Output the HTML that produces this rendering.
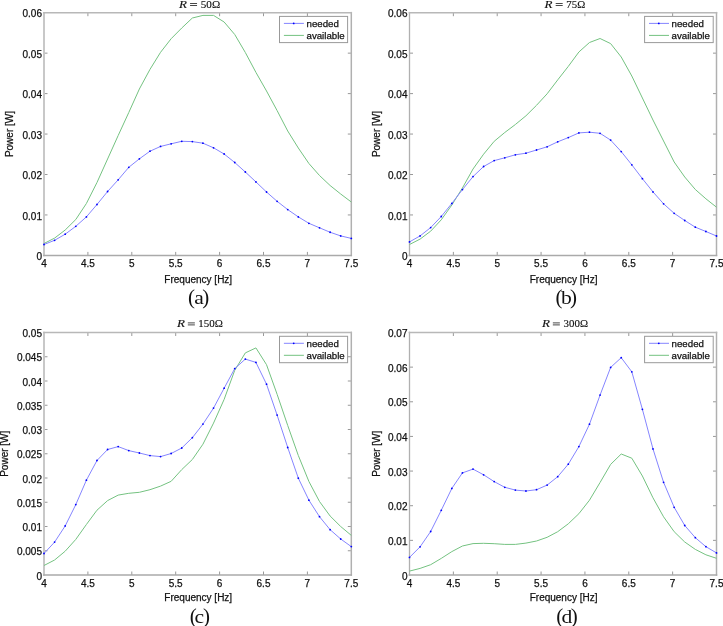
<!DOCTYPE html>
<html><head><meta charset="utf-8"><style>
html,body{margin:0;padding:0;background:#fff;}
svg{display:block;filter:grayscale(0%);}
.tk{stroke:#999;stroke-width:1;}
.tl{font-family:"Liberation Sans", sans-serif;font-size:10px;fill:#111;stroke:#111;stroke-width:0.25px;}
.al{font-family:"Liberation Sans", sans-serif;font-size:10px;fill:#111;stroke:#111;stroke-width:0.25px;}
.lt{font-family:"Liberation Sans", sans-serif;font-size:9.7px;fill:#111;stroke:#111;stroke-width:0.25px;}
.ti{font-family:"Liberation Serif", serif;font-size:11px;fill:#111;stroke:#111;stroke-width:0.15px;}
.cp{font-family:"Liberation Serif", serif;font-size:18px;fill:#111;}
.cpp{font-family:"Liberation Serif", serif;font-size:21px;fill:#111;}
.ax{fill:none;}
.lg{fill:#fff;stroke:#999;stroke-width:1;}
.ga{fill:none;stroke:#74c280;stroke-width:1.0;stroke-linejoin:round;}
.bn{fill:none;stroke:#8585ff;stroke-width:1.0;stroke-linejoin:round;}
.mk{fill:#0000ff;}
</style></head><body>
<svg width="723" height="626" viewBox="0 0 723 626">
<text x="42.0" y="260.00" text-anchor="end" class="tl">0</text>
<line x1="44" y1="214.95" x2="47.5" y2="214.95" class="tk"/>
<line x1="351.3" y1="214.95" x2="347.8" y2="214.95" class="tk"/>
<text x="42.0" y="219.55" text-anchor="end" class="tl">0.01</text>
<line x1="44" y1="174.50" x2="47.5" y2="174.50" class="tk"/>
<line x1="351.3" y1="174.50" x2="347.8" y2="174.50" class="tk"/>
<text x="42.0" y="179.10" text-anchor="end" class="tl">0.02</text>
<line x1="44" y1="134.05" x2="47.5" y2="134.05" class="tk"/>
<line x1="351.3" y1="134.05" x2="347.8" y2="134.05" class="tk"/>
<text x="42.0" y="138.65" text-anchor="end" class="tl">0.03</text>
<line x1="44" y1="93.60" x2="47.5" y2="93.60" class="tk"/>
<line x1="351.3" y1="93.60" x2="347.8" y2="93.60" class="tk"/>
<text x="42.0" y="98.20" text-anchor="end" class="tl">0.04</text>
<line x1="44" y1="53.15" x2="47.5" y2="53.15" class="tk"/>
<line x1="351.3" y1="53.15" x2="347.8" y2="53.15" class="tk"/>
<text x="42.0" y="57.75" text-anchor="end" class="tl">0.05</text>
<text x="42.0" y="17.30" text-anchor="end" class="tl">0.06</text>
<text x="44.00" y="267.40" text-anchor="middle" class="tl">4</text>
<line x1="87.90" y1="255.4" x2="87.90" y2="251.9" class="tk"/>
<line x1="87.90" y1="12.7" x2="87.90" y2="16.2" class="tk"/>
<text x="87.90" y="267.40" text-anchor="middle" class="tl">4.5</text>
<line x1="131.80" y1="255.4" x2="131.80" y2="251.9" class="tk"/>
<line x1="131.80" y1="12.7" x2="131.80" y2="16.2" class="tk"/>
<text x="131.80" y="267.40" text-anchor="middle" class="tl">5</text>
<line x1="175.70" y1="255.4" x2="175.70" y2="251.9" class="tk"/>
<line x1="175.70" y1="12.7" x2="175.70" y2="16.2" class="tk"/>
<text x="175.70" y="267.40" text-anchor="middle" class="tl">5.5</text>
<line x1="219.60" y1="255.4" x2="219.60" y2="251.9" class="tk"/>
<line x1="219.60" y1="12.7" x2="219.60" y2="16.2" class="tk"/>
<text x="219.60" y="267.40" text-anchor="middle" class="tl">6</text>
<line x1="263.50" y1="255.4" x2="263.50" y2="251.9" class="tk"/>
<line x1="263.50" y1="12.7" x2="263.50" y2="16.2" class="tk"/>
<text x="263.50" y="267.40" text-anchor="middle" class="tl">6.5</text>
<line x1="307.40" y1="255.4" x2="307.40" y2="251.9" class="tk"/>
<line x1="307.40" y1="12.7" x2="307.40" y2="16.2" class="tk"/>
<text x="307.40" y="267.40" text-anchor="middle" class="tl">7</text>
<text x="351.30" y="267.40" text-anchor="middle" class="tl">7.5</text>
<path d="M44,11.899999999999999V256.15" class="ax" stroke-width="1.9" stroke="#c6c6c6"/>
<path d="M351.3,11.899999999999999V256.15" class="ax" stroke-width="1.5" stroke="#b0b0b0"/>
<path d="M43.1,12.7H352.05" class="ax" stroke-width="1.5" stroke="#b8b8b8"/>
<path d="M43.1,255.4H352.05" class="ax" stroke-width="1.5" stroke="#aaaaaa"/>
<polyline points="44.00,243.5 54.60,238.1 65.19,230 75.79,219.5 86.39,203.5 96.98,182.5 107.58,159 118.18,135.5 128.77,112.5 139.37,89 149.97,69.4 160.56,52.3 171.16,38.7 181.76,28 192.35,18 202.95,15.4 213.54,15.4 224.14,22 234.74,34.5 245.33,52.5 255.93,72.4 266.53,91 277.12,110.6 287.72,131 298.32,148 308.91,163.5 319.51,175.5 330.11,185.5 340.70,194 351.30,202" class="ga"/>
<polyline points="44.00,244.5 54.60,240.3 65.19,234.2 75.79,226.3 86.39,216.9 96.98,204.5 107.58,191.5 118.18,179.8 128.77,167.3 139.37,158.85 149.97,151.2 160.56,146.45 171.16,143.8 181.76,141.3 192.35,141.6 202.95,143.2 213.54,147.8 224.14,154.0 234.74,162.5 245.33,172.0 255.93,181.9 266.53,192.0 277.12,201.3 287.72,209.6 298.32,216.9 308.91,223.3 319.51,227.8 330.11,232.25 340.70,235.9 351.30,238.4" class="bn"/>
<circle cx="44.00" cy="244.5" r="0.9" class="mk"/>
<circle cx="54.60" cy="240.3" r="0.9" class="mk"/>
<circle cx="65.19" cy="234.2" r="0.9" class="mk"/>
<circle cx="75.79" cy="226.3" r="0.9" class="mk"/>
<circle cx="86.39" cy="216.9" r="0.9" class="mk"/>
<circle cx="96.98" cy="204.5" r="0.9" class="mk"/>
<circle cx="107.58" cy="191.5" r="0.9" class="mk"/>
<circle cx="118.18" cy="179.8" r="0.9" class="mk"/>
<circle cx="128.77" cy="167.3" r="0.9" class="mk"/>
<circle cx="139.37" cy="158.85" r="0.9" class="mk"/>
<circle cx="149.97" cy="151.2" r="0.9" class="mk"/>
<circle cx="160.56" cy="146.45" r="0.9" class="mk"/>
<circle cx="171.16" cy="143.8" r="0.9" class="mk"/>
<circle cx="181.76" cy="141.3" r="0.9" class="mk"/>
<circle cx="192.35" cy="141.6" r="0.9" class="mk"/>
<circle cx="202.95" cy="143.2" r="0.9" class="mk"/>
<circle cx="213.54" cy="147.8" r="0.9" class="mk"/>
<circle cx="224.14" cy="154.0" r="0.9" class="mk"/>
<circle cx="234.74" cy="162.5" r="0.9" class="mk"/>
<circle cx="245.33" cy="172.0" r="0.9" class="mk"/>
<circle cx="255.93" cy="181.9" r="0.9" class="mk"/>
<circle cx="266.53" cy="192.0" r="0.9" class="mk"/>
<circle cx="277.12" cy="201.3" r="0.9" class="mk"/>
<circle cx="287.72" cy="209.6" r="0.9" class="mk"/>
<circle cx="298.32" cy="216.9" r="0.9" class="mk"/>
<circle cx="308.91" cy="223.3" r="0.9" class="mk"/>
<circle cx="319.51" cy="227.8" r="0.9" class="mk"/>
<circle cx="330.11" cy="232.25" r="0.9" class="mk"/>
<circle cx="340.70" cy="235.9" r="0.9" class="mk"/>
<circle cx="351.30" cy="238.4" r="0.9" class="mk"/>
<rect x="279.5" y="16.4" width="68.10000000000002" height="26.200000000000003" class="lg"/>
<line x1="283.9" y1="23.4" x2="303.9" y2="23.4" class="bn"/>
<circle cx="293.7" cy="23.4" r="0.9" class="mk"/>
<line x1="283.9" y1="35.4" x2="303.9" y2="35.4" class="ga"/>
<text x="306.5" y="26.799999999999997" class="lt">needed</text>
<text x="306.5" y="38.8" class="lt">available</text>
<text transform="translate(13.0,134.05) rotate(-90)" text-anchor="middle" class="al">Power [W]</text>
<text x="198.25" y="283.2" text-anchor="middle" class="al">Frequency [Hz]</text>
<text x="179.0" y="7.5" class="ti" font-style="italic" textLength="8.0" lengthAdjust="spacingAndGlyphs">R</text>
<path d="M190.05,3.50h7M190.05,5.50h7" stroke="#333" stroke-width="0.9"/>
<text x="200.79999999999998" y="7.5" class="ti" textLength="19.4" lengthAdjust="spacingAndGlyphs">50Ω</text>
<text x="188.10" y="304.00" class="cpp">(</text>
<text x="198.95" y="304.30" text-anchor="middle" class="cp" transform="translate(198.95,0) scale(1.2,1) translate(-198.95,0)">a</text>
<text x="209.20" y="304.00" text-anchor="end" class="cpp">)</text>
<text x="407.5" y="260.00" text-anchor="end" class="tl">0</text>
<line x1="409.5" y1="214.95" x2="413.0" y2="214.95" class="tk"/>
<line x1="716.5" y1="214.95" x2="713.0" y2="214.95" class="tk"/>
<text x="407.5" y="219.55" text-anchor="end" class="tl">0.01</text>
<line x1="409.5" y1="174.50" x2="413.0" y2="174.50" class="tk"/>
<line x1="716.5" y1="174.50" x2="713.0" y2="174.50" class="tk"/>
<text x="407.5" y="179.10" text-anchor="end" class="tl">0.02</text>
<line x1="409.5" y1="134.05" x2="413.0" y2="134.05" class="tk"/>
<line x1="716.5" y1="134.05" x2="713.0" y2="134.05" class="tk"/>
<text x="407.5" y="138.65" text-anchor="end" class="tl">0.03</text>
<line x1="409.5" y1="93.60" x2="413.0" y2="93.60" class="tk"/>
<line x1="716.5" y1="93.60" x2="713.0" y2="93.60" class="tk"/>
<text x="407.5" y="98.20" text-anchor="end" class="tl">0.04</text>
<line x1="409.5" y1="53.15" x2="413.0" y2="53.15" class="tk"/>
<line x1="716.5" y1="53.15" x2="713.0" y2="53.15" class="tk"/>
<text x="407.5" y="57.75" text-anchor="end" class="tl">0.05</text>
<text x="407.5" y="17.30" text-anchor="end" class="tl">0.06</text>
<text x="409.50" y="267.40" text-anchor="middle" class="tl">4</text>
<line x1="453.36" y1="255.4" x2="453.36" y2="251.9" class="tk"/>
<line x1="453.36" y1="12.7" x2="453.36" y2="16.2" class="tk"/>
<text x="453.36" y="267.40" text-anchor="middle" class="tl">4.5</text>
<line x1="497.21" y1="255.4" x2="497.21" y2="251.9" class="tk"/>
<line x1="497.21" y1="12.7" x2="497.21" y2="16.2" class="tk"/>
<text x="497.21" y="267.40" text-anchor="middle" class="tl">5</text>
<line x1="541.07" y1="255.4" x2="541.07" y2="251.9" class="tk"/>
<line x1="541.07" y1="12.7" x2="541.07" y2="16.2" class="tk"/>
<text x="541.07" y="267.40" text-anchor="middle" class="tl">5.5</text>
<line x1="584.93" y1="255.4" x2="584.93" y2="251.9" class="tk"/>
<line x1="584.93" y1="12.7" x2="584.93" y2="16.2" class="tk"/>
<text x="584.93" y="267.40" text-anchor="middle" class="tl">6</text>
<line x1="628.79" y1="255.4" x2="628.79" y2="251.9" class="tk"/>
<line x1="628.79" y1="12.7" x2="628.79" y2="16.2" class="tk"/>
<text x="628.79" y="267.40" text-anchor="middle" class="tl">6.5</text>
<line x1="672.64" y1="255.4" x2="672.64" y2="251.9" class="tk"/>
<line x1="672.64" y1="12.7" x2="672.64" y2="16.2" class="tk"/>
<text x="672.64" y="267.40" text-anchor="middle" class="tl">7</text>
<text x="716.50" y="267.40" text-anchor="middle" class="tl">7.5</text>
<path d="M409.5,11.899999999999999V256.15" class="ax" stroke-width="1.3" stroke="#b0b0b0"/>
<path d="M716.5,11.899999999999999V256.15" class="ax" stroke-width="1.5" stroke="#b0b0b0"/>
<path d="M408.6,12.7H717.25" class="ax" stroke-width="1.5" stroke="#b8b8b8"/>
<path d="M408.6,255.4H717.25" class="ax" stroke-width="1.5" stroke="#aaaaaa"/>
<polyline points="409.50,244.5 420.09,239.1 430.67,231.2 441.26,219.8 451.84,205 462.43,188 473.02,169 483.60,154.2 494.19,141.3 504.78,132.5 515.36,124.5 525.95,115.8 536.53,105.3 547.12,93.8 557.71,79.9 568.29,66.4 578.88,52 589.47,42.5 600.05,38.5 610.64,43.6 621.22,57 631.81,76 642.40,98 652.98,120 663.57,141 674.16,162 684.74,177 695.33,189.5 705.91,198.8 716.50,207.2" class="ga"/>
<polyline points="409.50,241.9 420.09,235.9 430.67,227.6 441.26,216.5 451.84,203.4 462.43,189.6 473.02,176.6 483.60,166.5 494.19,160.6 504.78,157.8 515.36,154.8 525.95,153.2 536.53,150 547.12,146.8 557.71,141.8 568.29,137.6 578.88,132.9 589.47,132.2 600.05,133.3 610.64,140.1 621.22,151.6 631.81,164.8 642.40,178.7 652.98,191.9 663.57,203.8 674.16,213.3 684.74,220.5 695.33,227.2 705.91,231.5 716.50,236" class="bn"/>
<circle cx="409.50" cy="241.9" r="0.9" class="mk"/>
<circle cx="420.09" cy="235.9" r="0.9" class="mk"/>
<circle cx="430.67" cy="227.6" r="0.9" class="mk"/>
<circle cx="441.26" cy="216.5" r="0.9" class="mk"/>
<circle cx="451.84" cy="203.4" r="0.9" class="mk"/>
<circle cx="462.43" cy="189.6" r="0.9" class="mk"/>
<circle cx="473.02" cy="176.6" r="0.9" class="mk"/>
<circle cx="483.60" cy="166.5" r="0.9" class="mk"/>
<circle cx="494.19" cy="160.6" r="0.9" class="mk"/>
<circle cx="504.78" cy="157.8" r="0.9" class="mk"/>
<circle cx="515.36" cy="154.8" r="0.9" class="mk"/>
<circle cx="525.95" cy="153.2" r="0.9" class="mk"/>
<circle cx="536.53" cy="150" r="0.9" class="mk"/>
<circle cx="547.12" cy="146.8" r="0.9" class="mk"/>
<circle cx="557.71" cy="141.8" r="0.9" class="mk"/>
<circle cx="568.29" cy="137.6" r="0.9" class="mk"/>
<circle cx="578.88" cy="132.9" r="0.9" class="mk"/>
<circle cx="589.47" cy="132.2" r="0.9" class="mk"/>
<circle cx="600.05" cy="133.3" r="0.9" class="mk"/>
<circle cx="610.64" cy="140.1" r="0.9" class="mk"/>
<circle cx="621.22" cy="151.6" r="0.9" class="mk"/>
<circle cx="631.81" cy="164.8" r="0.9" class="mk"/>
<circle cx="642.40" cy="178.7" r="0.9" class="mk"/>
<circle cx="652.98" cy="191.9" r="0.9" class="mk"/>
<circle cx="663.57" cy="203.8" r="0.9" class="mk"/>
<circle cx="674.16" cy="213.3" r="0.9" class="mk"/>
<circle cx="684.74" cy="220.5" r="0.9" class="mk"/>
<circle cx="695.33" cy="227.2" r="0.9" class="mk"/>
<circle cx="705.91" cy="231.5" r="0.9" class="mk"/>
<circle cx="716.50" cy="236" r="0.9" class="mk"/>
<rect x="644.6" y="16.4" width="68.60000000000002" height="26.200000000000003" class="lg"/>
<line x1="649.0" y1="23.4" x2="669.0" y2="23.4" class="bn"/>
<circle cx="658.8000000000001" cy="23.4" r="0.9" class="mk"/>
<line x1="649.0" y1="35.4" x2="669.0" y2="35.4" class="ga"/>
<text x="671.6" y="26.799999999999997" class="lt">needed</text>
<text x="671.6" y="38.8" class="lt">available</text>
<text transform="translate(380.1,134.05) rotate(-90)" text-anchor="middle" class="al">Power [W]</text>
<text x="563.60" y="283.2" text-anchor="middle" class="al">Frequency [Hz]</text>
<text x="544.4" y="7.5" class="ti" font-style="italic" textLength="8.0" lengthAdjust="spacingAndGlyphs">R</text>
<path d="M555.70,3.50h7M555.70,5.50h7" stroke="#333" stroke-width="0.9"/>
<text x="566.3000000000001" y="7.5" class="ti" textLength="18.9" lengthAdjust="spacingAndGlyphs">75Ω</text>
<text x="555.60" y="304.00" class="cpp">(</text>
<text x="566.45" y="304.30" text-anchor="middle" class="cp" transform="translate(566.45,0) scale(1.2,1) translate(-566.45,0)">b</text>
<text x="577.00" y="304.00" text-anchor="end" class="cpp">)</text>
<text x="42.0" y="579.60" text-anchor="end" class="tl">0</text>
<line x1="44" y1="550.75" x2="47.5" y2="550.75" class="tk"/>
<line x1="351.3" y1="550.75" x2="347.8" y2="550.75" class="tk"/>
<text x="42.0" y="555.35" text-anchor="end" class="tl">0.005</text>
<line x1="44" y1="526.50" x2="47.5" y2="526.50" class="tk"/>
<line x1="351.3" y1="526.50" x2="347.8" y2="526.50" class="tk"/>
<text x="42.0" y="531.10" text-anchor="end" class="tl">0.01</text>
<line x1="44" y1="502.25" x2="47.5" y2="502.25" class="tk"/>
<line x1="351.3" y1="502.25" x2="347.8" y2="502.25" class="tk"/>
<text x="42.0" y="506.85" text-anchor="end" class="tl">0.015</text>
<line x1="44" y1="478.00" x2="47.5" y2="478.00" class="tk"/>
<line x1="351.3" y1="478.00" x2="347.8" y2="478.00" class="tk"/>
<text x="42.0" y="482.60" text-anchor="end" class="tl">0.02</text>
<line x1="44" y1="453.75" x2="47.5" y2="453.75" class="tk"/>
<line x1="351.3" y1="453.75" x2="347.8" y2="453.75" class="tk"/>
<text x="42.0" y="458.35" text-anchor="end" class="tl">0.025</text>
<line x1="44" y1="429.50" x2="47.5" y2="429.50" class="tk"/>
<line x1="351.3" y1="429.50" x2="347.8" y2="429.50" class="tk"/>
<text x="42.0" y="434.10" text-anchor="end" class="tl">0.03</text>
<line x1="44" y1="405.25" x2="47.5" y2="405.25" class="tk"/>
<line x1="351.3" y1="405.25" x2="347.8" y2="405.25" class="tk"/>
<text x="42.0" y="409.85" text-anchor="end" class="tl">0.035</text>
<line x1="44" y1="381.00" x2="47.5" y2="381.00" class="tk"/>
<line x1="351.3" y1="381.00" x2="347.8" y2="381.00" class="tk"/>
<text x="42.0" y="385.60" text-anchor="end" class="tl">0.04</text>
<line x1="44" y1="356.75" x2="47.5" y2="356.75" class="tk"/>
<line x1="351.3" y1="356.75" x2="347.8" y2="356.75" class="tk"/>
<text x="42.0" y="361.35" text-anchor="end" class="tl">0.045</text>
<text x="42.0" y="337.10" text-anchor="end" class="tl">0.05</text>
<text x="44.00" y="587.00" text-anchor="middle" class="tl">4</text>
<line x1="87.90" y1="575.0" x2="87.90" y2="571.5" class="tk"/>
<line x1="87.90" y1="332.5" x2="87.90" y2="336.0" class="tk"/>
<text x="87.90" y="587.00" text-anchor="middle" class="tl">4.5</text>
<line x1="131.80" y1="575.0" x2="131.80" y2="571.5" class="tk"/>
<line x1="131.80" y1="332.5" x2="131.80" y2="336.0" class="tk"/>
<text x="131.80" y="587.00" text-anchor="middle" class="tl">5</text>
<line x1="175.70" y1="575.0" x2="175.70" y2="571.5" class="tk"/>
<line x1="175.70" y1="332.5" x2="175.70" y2="336.0" class="tk"/>
<text x="175.70" y="587.00" text-anchor="middle" class="tl">5.5</text>
<line x1="219.60" y1="575.0" x2="219.60" y2="571.5" class="tk"/>
<line x1="219.60" y1="332.5" x2="219.60" y2="336.0" class="tk"/>
<text x="219.60" y="587.00" text-anchor="middle" class="tl">6</text>
<line x1="263.50" y1="575.0" x2="263.50" y2="571.5" class="tk"/>
<line x1="263.50" y1="332.5" x2="263.50" y2="336.0" class="tk"/>
<text x="263.50" y="587.00" text-anchor="middle" class="tl">6.5</text>
<line x1="307.40" y1="575.0" x2="307.40" y2="571.5" class="tk"/>
<line x1="307.40" y1="332.5" x2="307.40" y2="336.0" class="tk"/>
<text x="307.40" y="587.00" text-anchor="middle" class="tl">7</text>
<text x="351.30" y="587.00" text-anchor="middle" class="tl">7.5</text>
<path d="M44,331.7V575.75" class="ax" stroke-width="1.9" stroke="#c6c6c6"/>
<path d="M351.3,331.7V575.75" class="ax" stroke-width="1.5" stroke="#b0b0b0"/>
<path d="M43.1,332.5H352.05" class="ax" stroke-width="1.5" stroke="#b8b8b8"/>
<path d="M43.1,575.0H352.05" class="ax" stroke-width="1.5" stroke="#aaaaaa"/>
<polyline points="44.00,565.5 54.60,560 65.19,551.2 75.79,539.4 86.39,524.5 96.98,510.2 107.58,500.6 118.18,495.1 128.77,493.3 139.37,492.3 149.97,489.7 160.56,486.1 171.16,481.3 181.76,469.6 192.35,459.5 202.95,444.2 213.54,423.1 224.14,399.4 234.74,370.3 245.33,352.9 255.93,347.9 266.53,364.7 277.12,394.3 287.72,425.5 298.32,455.5 308.91,481.5 319.51,501.5 330.11,516 340.70,526.5 351.30,535.4" class="ga"/>
<polyline points="44.00,553.5 54.60,542.1 65.19,525.9 75.79,504.6 86.39,480.2 96.98,460.5 107.58,449.5 118.18,446.6 128.77,450.6 139.37,453 149.97,455.6 160.56,456.6 171.16,453.5 181.76,448 192.35,437.7 202.95,424.1 213.54,408.1 224.14,388.2 234.74,368.6 245.33,359.1 255.93,362.4 266.53,384.2 277.12,415.1 287.72,447.5 298.32,478.2 308.91,500.2 319.51,516.7 330.11,529.7 340.70,539 351.30,546.6" class="bn"/>
<circle cx="44.00" cy="553.5" r="0.9" class="mk"/>
<circle cx="54.60" cy="542.1" r="0.9" class="mk"/>
<circle cx="65.19" cy="525.9" r="0.9" class="mk"/>
<circle cx="75.79" cy="504.6" r="0.9" class="mk"/>
<circle cx="86.39" cy="480.2" r="0.9" class="mk"/>
<circle cx="96.98" cy="460.5" r="0.9" class="mk"/>
<circle cx="107.58" cy="449.5" r="0.9" class="mk"/>
<circle cx="118.18" cy="446.6" r="0.9" class="mk"/>
<circle cx="128.77" cy="450.6" r="0.9" class="mk"/>
<circle cx="139.37" cy="453" r="0.9" class="mk"/>
<circle cx="149.97" cy="455.6" r="0.9" class="mk"/>
<circle cx="160.56" cy="456.6" r="0.9" class="mk"/>
<circle cx="171.16" cy="453.5" r="0.9" class="mk"/>
<circle cx="181.76" cy="448" r="0.9" class="mk"/>
<circle cx="192.35" cy="437.7" r="0.9" class="mk"/>
<circle cx="202.95" cy="424.1" r="0.9" class="mk"/>
<circle cx="213.54" cy="408.1" r="0.9" class="mk"/>
<circle cx="224.14" cy="388.2" r="0.9" class="mk"/>
<circle cx="234.74" cy="368.6" r="0.9" class="mk"/>
<circle cx="245.33" cy="359.1" r="0.9" class="mk"/>
<circle cx="255.93" cy="362.4" r="0.9" class="mk"/>
<circle cx="266.53" cy="384.2" r="0.9" class="mk"/>
<circle cx="277.12" cy="415.1" r="0.9" class="mk"/>
<circle cx="287.72" cy="447.5" r="0.9" class="mk"/>
<circle cx="298.32" cy="478.2" r="0.9" class="mk"/>
<circle cx="308.91" cy="500.2" r="0.9" class="mk"/>
<circle cx="319.51" cy="516.7" r="0.9" class="mk"/>
<circle cx="330.11" cy="529.7" r="0.9" class="mk"/>
<circle cx="340.70" cy="539" r="0.9" class="mk"/>
<circle cx="351.30" cy="546.6" r="0.9" class="mk"/>
<rect x="279.5" y="336.3" width="68.10000000000002" height="26.399999999999977" class="lg"/>
<line x1="283.9" y1="343.3" x2="303.9" y2="343.3" class="bn"/>
<circle cx="293.7" cy="343.3" r="0.9" class="mk"/>
<line x1="283.9" y1="355.3" x2="303.9" y2="355.3" class="ga"/>
<text x="306.5" y="346.7" class="lt">needed</text>
<text x="306.5" y="358.7" class="lt">available</text>
<text transform="translate(8.0,453.75) rotate(-90)" text-anchor="middle" class="al">Power [W]</text>
<text x="198.25" y="601.0" text-anchor="middle" class="al">Frequency [Hz]</text>
<text x="177.0" y="326.9" class="ti" font-style="italic" textLength="8.0" lengthAdjust="spacingAndGlyphs">R</text>
<path d="M187.85,322.90h7M187.85,324.90h7" stroke="#333" stroke-width="0.9"/>
<text x="198.29999999999998" y="326.9" class="ti" textLength="24.6" lengthAdjust="spacingAndGlyphs">150Ω</text>
<text x="189.70" y="622.50" class="cpp">(</text>
<text x="199.25" y="622.80" text-anchor="middle" class="cp" transform="translate(199.25,0) scale(1.2,1) translate(-199.25,0)">c</text>
<text x="210.00" y="622.50" text-anchor="end" class="cpp">)</text>
<text x="407.5" y="579.60" text-anchor="end" class="tl">0</text>
<line x1="409.5" y1="540.36" x2="413.0" y2="540.36" class="tk"/>
<line x1="716.5" y1="540.36" x2="713.0" y2="540.36" class="tk"/>
<text x="407.5" y="544.96" text-anchor="end" class="tl">0.01</text>
<line x1="409.5" y1="505.71" x2="413.0" y2="505.71" class="tk"/>
<line x1="716.5" y1="505.71" x2="713.0" y2="505.71" class="tk"/>
<text x="407.5" y="510.31" text-anchor="end" class="tl">0.02</text>
<line x1="409.5" y1="471.07" x2="413.0" y2="471.07" class="tk"/>
<line x1="716.5" y1="471.07" x2="713.0" y2="471.07" class="tk"/>
<text x="407.5" y="475.67" text-anchor="end" class="tl">0.03</text>
<line x1="409.5" y1="436.43" x2="413.0" y2="436.43" class="tk"/>
<line x1="716.5" y1="436.43" x2="713.0" y2="436.43" class="tk"/>
<text x="407.5" y="441.03" text-anchor="end" class="tl">0.04</text>
<line x1="409.5" y1="401.79" x2="413.0" y2="401.79" class="tk"/>
<line x1="716.5" y1="401.79" x2="713.0" y2="401.79" class="tk"/>
<text x="407.5" y="406.39" text-anchor="end" class="tl">0.05</text>
<line x1="409.5" y1="367.14" x2="413.0" y2="367.14" class="tk"/>
<line x1="716.5" y1="367.14" x2="713.0" y2="367.14" class="tk"/>
<text x="407.5" y="371.74" text-anchor="end" class="tl">0.06</text>
<text x="407.5" y="337.10" text-anchor="end" class="tl">0.07</text>
<text x="409.50" y="587.00" text-anchor="middle" class="tl">4</text>
<line x1="453.36" y1="575.0" x2="453.36" y2="571.5" class="tk"/>
<line x1="453.36" y1="332.5" x2="453.36" y2="336.0" class="tk"/>
<text x="453.36" y="587.00" text-anchor="middle" class="tl">4.5</text>
<line x1="497.21" y1="575.0" x2="497.21" y2="571.5" class="tk"/>
<line x1="497.21" y1="332.5" x2="497.21" y2="336.0" class="tk"/>
<text x="497.21" y="587.00" text-anchor="middle" class="tl">5</text>
<line x1="541.07" y1="575.0" x2="541.07" y2="571.5" class="tk"/>
<line x1="541.07" y1="332.5" x2="541.07" y2="336.0" class="tk"/>
<text x="541.07" y="587.00" text-anchor="middle" class="tl">5.5</text>
<line x1="584.93" y1="575.0" x2="584.93" y2="571.5" class="tk"/>
<line x1="584.93" y1="332.5" x2="584.93" y2="336.0" class="tk"/>
<text x="584.93" y="587.00" text-anchor="middle" class="tl">6</text>
<line x1="628.79" y1="575.0" x2="628.79" y2="571.5" class="tk"/>
<line x1="628.79" y1="332.5" x2="628.79" y2="336.0" class="tk"/>
<text x="628.79" y="587.00" text-anchor="middle" class="tl">6.5</text>
<line x1="672.64" y1="575.0" x2="672.64" y2="571.5" class="tk"/>
<line x1="672.64" y1="332.5" x2="672.64" y2="336.0" class="tk"/>
<text x="672.64" y="587.00" text-anchor="middle" class="tl">7</text>
<text x="716.50" y="587.00" text-anchor="middle" class="tl">7.5</text>
<path d="M409.5,331.7V575.75" class="ax" stroke-width="1.3" stroke="#b0b0b0"/>
<path d="M716.5,331.7V575.75" class="ax" stroke-width="1.5" stroke="#b0b0b0"/>
<path d="M408.6,332.5H717.25" class="ax" stroke-width="1.5" stroke="#b8b8b8"/>
<path d="M408.6,575.0H717.25" class="ax" stroke-width="1.5" stroke="#aaaaaa"/>
<polyline points="409.50,571.1 420.09,568.4 430.67,564.7 441.26,558.4 451.84,551.6 462.43,546 473.02,543.6 483.60,543.3 494.19,543.7 504.78,544.4 515.36,544.4 525.95,543.1 536.53,541 547.12,537.3 557.71,531.7 568.29,523.8 578.88,513.7 589.47,500.2 600.05,482.5 610.64,464.4 621.22,454 631.81,458.2 642.40,476 652.98,497.8 663.57,516.8 674.16,531.7 684.74,542 695.33,549.4 705.91,554.8 716.50,558.3" class="ga"/>
<polyline points="409.50,557.4 420.09,546.8 430.67,531.5 441.26,510.3 451.84,488.4 462.43,472.9 473.02,469.1 483.60,474.8 494.19,481.6 504.78,487.3 515.36,490.1 525.95,491 536.53,489.7 547.12,485.1 557.71,476.7 568.29,464.2 578.88,446.6 589.47,424.2 600.05,395.1 610.64,367.4 621.22,357.7 631.81,371.8 642.40,409.3 652.98,448.9 663.57,482.3 674.16,507.3 684.74,525.5 695.33,537.7 705.91,546.7 716.50,552.9" class="bn"/>
<circle cx="409.50" cy="557.4" r="0.9" class="mk"/>
<circle cx="420.09" cy="546.8" r="0.9" class="mk"/>
<circle cx="430.67" cy="531.5" r="0.9" class="mk"/>
<circle cx="441.26" cy="510.3" r="0.9" class="mk"/>
<circle cx="451.84" cy="488.4" r="0.9" class="mk"/>
<circle cx="462.43" cy="472.9" r="0.9" class="mk"/>
<circle cx="473.02" cy="469.1" r="0.9" class="mk"/>
<circle cx="483.60" cy="474.8" r="0.9" class="mk"/>
<circle cx="494.19" cy="481.6" r="0.9" class="mk"/>
<circle cx="504.78" cy="487.3" r="0.9" class="mk"/>
<circle cx="515.36" cy="490.1" r="0.9" class="mk"/>
<circle cx="525.95" cy="491" r="0.9" class="mk"/>
<circle cx="536.53" cy="489.7" r="0.9" class="mk"/>
<circle cx="547.12" cy="485.1" r="0.9" class="mk"/>
<circle cx="557.71" cy="476.7" r="0.9" class="mk"/>
<circle cx="568.29" cy="464.2" r="0.9" class="mk"/>
<circle cx="578.88" cy="446.6" r="0.9" class="mk"/>
<circle cx="589.47" cy="424.2" r="0.9" class="mk"/>
<circle cx="600.05" cy="395.1" r="0.9" class="mk"/>
<circle cx="610.64" cy="367.4" r="0.9" class="mk"/>
<circle cx="621.22" cy="357.7" r="0.9" class="mk"/>
<circle cx="631.81" cy="371.8" r="0.9" class="mk"/>
<circle cx="642.40" cy="409.3" r="0.9" class="mk"/>
<circle cx="652.98" cy="448.9" r="0.9" class="mk"/>
<circle cx="663.57" cy="482.3" r="0.9" class="mk"/>
<circle cx="674.16" cy="507.3" r="0.9" class="mk"/>
<circle cx="684.74" cy="525.5" r="0.9" class="mk"/>
<circle cx="695.33" cy="537.7" r="0.9" class="mk"/>
<circle cx="705.91" cy="546.7" r="0.9" class="mk"/>
<circle cx="716.50" cy="552.9" r="0.9" class="mk"/>
<rect x="644.6" y="336.3" width="68.60000000000002" height="26.399999999999977" class="lg"/>
<line x1="649.0" y1="343.3" x2="669.0" y2="343.3" class="bn"/>
<circle cx="658.8000000000001" cy="343.3" r="0.9" class="mk"/>
<line x1="649.0" y1="355.3" x2="669.0" y2="355.3" class="ga"/>
<text x="671.6" y="346.7" class="lt">needed</text>
<text x="671.6" y="358.7" class="lt">available</text>
<text transform="translate(380.1,453.75) rotate(-90)" text-anchor="middle" class="al">Power [W]</text>
<text x="563.60" y="601.0" text-anchor="middle" class="al">Frequency [Hz]</text>
<text x="542.0" y="326.9" class="ti" font-style="italic" textLength="8.0" lengthAdjust="spacingAndGlyphs">R</text>
<path d="M552.85,322.90h7M552.85,324.90h7" stroke="#333" stroke-width="0.9"/>
<text x="563.6" y="326.9" class="ti" textLength="24.4" lengthAdjust="spacingAndGlyphs">300Ω</text>
<text x="556.20" y="622.50" class="cpp">(</text>
<text x="566.85" y="622.80" text-anchor="middle" class="cp" transform="translate(566.85,0) scale(1.2,1) translate(-566.85,0)">d</text>
<text x="577.80" y="622.50" text-anchor="end" class="cpp">)</text>
</svg>
</body></html>
